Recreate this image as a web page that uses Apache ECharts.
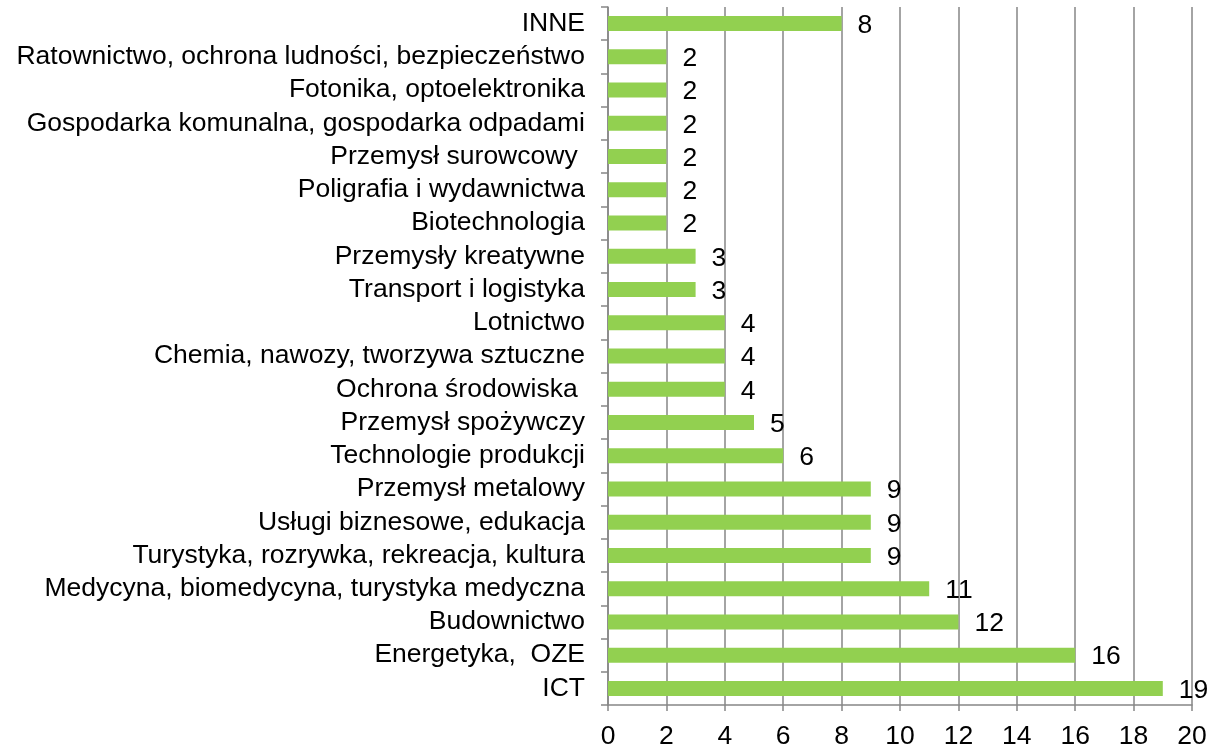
<!DOCTYPE html>
<html><head><meta charset="utf-8">
<script src="https://cdn.jsdelivr.net/npm/echarts@6/dist/echarts.min.js"></script>
<style>html,body{margin:0;padding:0;background:#fff}#c{width:1214px;height:750px}</style>
</head><body><div id="c"></div>
<script>
const categories = ["ICT","Energetyka,  OZE","Budownictwo","Medycyna, biomedycyna, turystyka medyczna","Turystyka, rozrywka, rekreacja, kultura","Usługi biznesowe, edukacja","Przemysł metalowy","Technologie produkcji","Przemysł spożywczy","Ochrona środowiska ","Chemia, nawozy, tworzywa sztuczne","Lotnictwo","Transport i logistyka","Przemysły kreatywne","Biotechnologia","Poligrafia i wydawnictwa","Przemysł surowcowy ","Gospodarka komunalna, gospodarka odpadami","Fotonika, optoelektronika","Ratownictwo, ochrona ludności, bezpieczeństwo","INNE"];
const values = [19,16,12,11,9,9,9,6,5,4,4,4,3,3,2,2,2,2,2,2,8];
const xTicks = [0,2,4,6,8,10,12,14,16,18,20];

const chart = echarts.init(document.getElementById('c'), null, {renderer:'canvas'});
const font = 'Liberation Sans, Arial, sans-serif';
chart.setOption({
  animation:false,
  grid:{left:608, right:22, top:7, bottom:43, containLabel:false},
  xAxis:{type:'value', min:xTicks[0], max:xTicks[xTicks.length-1], interval:2,
    axisLine:{show:true, lineStyle:{color:'#868686', width:1.5}},
    axisTick:{show:true, length:6, lineStyle:{color:'#868686', width:1.5}},
    axisLabel:{color:'#000', fontSize:26.5, fontFamily:font, margin:18},
    splitLine:{show:true, lineStyle:{color:'#868686', width:1.5}}
  },
  yAxis:{type:'category', data:categories,
    axisLine:{show:true, lineStyle:{color:'#868686', width:1.5}},
    axisTick:{show:true, length:7, alignWithLabel:false, lineStyle:{color:'#868686', width:1.5}},
    axisLabel:{color:'#000', fontSize:26.5, fontFamily:font, margin:23, interval:0, hideOverlap:false}
  },
  series:[{type:'bar', data:values, barWidth:15,
    itemStyle:{color:'#92D050'},
    label:{show:true, position:'right', distance:16, offset:[0,2], color:'#000', fontSize:26.5, fontFamily:font}
  }]
});
</script></body></html>
